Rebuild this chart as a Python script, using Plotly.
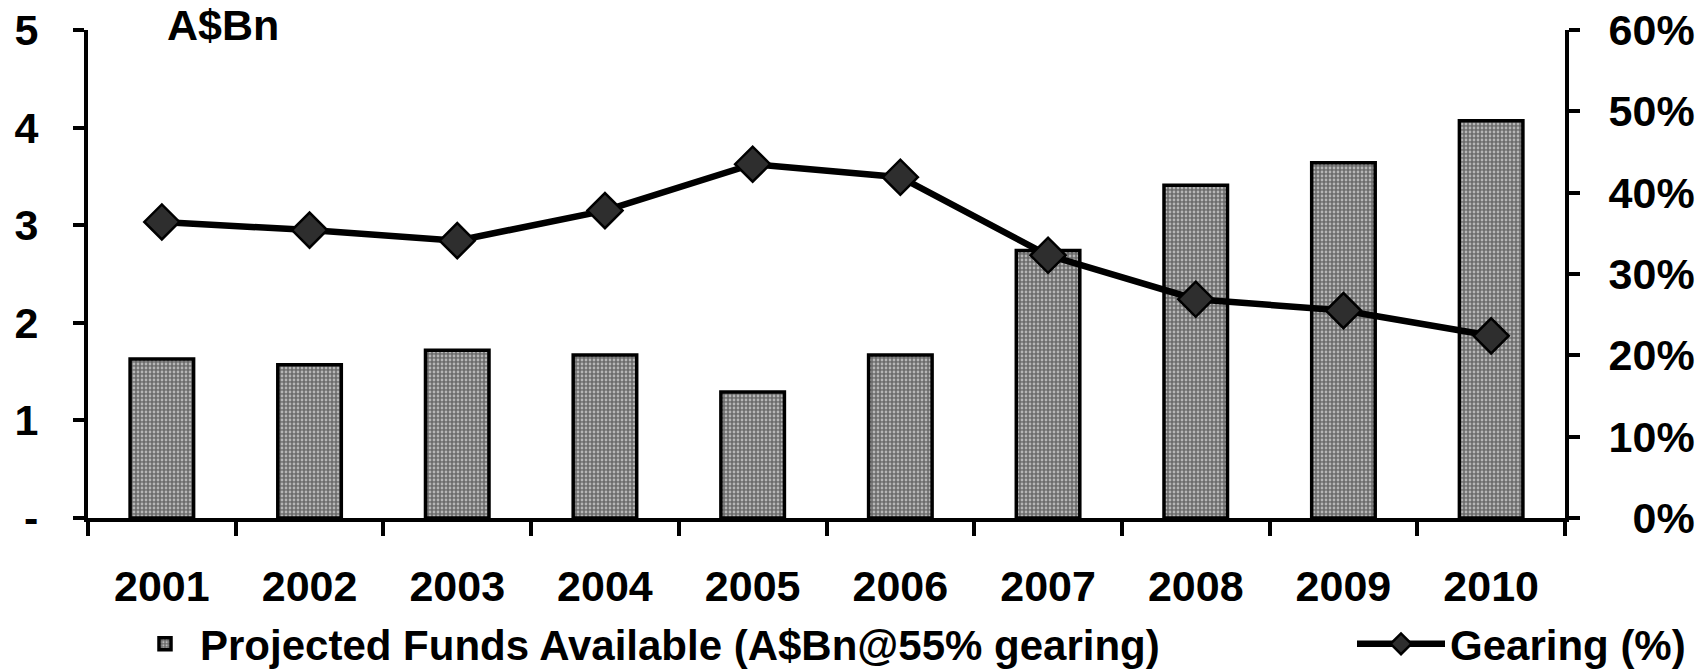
import plotly.graph_objects as go

years = ["2001", "2002", "2003", "2004", "2005", "2006", "2007", "2008", "2009", "2010"]
funds = [1.63, 1.57, 1.72, 1.67, 1.29, 1.67, 2.74, 3.41, 3.64, 4.07]
gearing = [0.364, 0.354, 0.341, 0.378, 0.435, 0.419, 0.323, 0.269, 0.255, 0.224]
left_ticks = [0, 1, 2, 3, 4, 5]
left_tick_text = ["-", "1", "2", "3", "4", "5"]
right_ticks = [0, 0.1, 0.2, 0.3, 0.4, 0.5, 0.6]
right_tick_text = ["\u20070%", "10%", "20%", "30%", "40%", "50%", "60%"]

FONT = "Liberation Sans, Arial, sans-serif"
W, H = 1701, 670
L, R, T, B = 88, 136, 30, 152

fig = go.Figure()
fig.add_trace(go.Bar(
    x=years, y=funds, name="Projected Funds Available (A$Bn@55% gearing)",
    width=0.43,
    marker=dict(color="#8c8c8c", line=dict(color="black", width=3.5),
                pattern=dict(shape=".", bgcolor="#6c6c6c", fgcolor="#ffffff", size=4, solidity=0.38)),
    legend="legend",
))
fig.add_trace(go.Scatter(
    x=years, y=gearing, name="Gearing (%)", yaxis="y2", mode="lines+markers",
    line=dict(color="black", width=6.5),
    marker=dict(symbol="diamond", size=27, color="#2e2e2e", line=dict(color="black", width=2.5)),
    legend="legend2",
))

axis_common = dict(showline=True, linecolor="black", linewidth=4, ticks="outside",
                   tickcolor="black", tickwidth=4, showgrid=False, zeroline=False,
                   automargin=False,
                   tickfont=dict(family=FONT, size=43, color="black", weight="bold"))

legend_font = dict(family=FONT, size=42, color="black", weight="bold")

fig.update_layout(
    width=W, height=H,
    margin=dict(l=L, r=R, t=T, b=B, autoexpand=False),
    plot_bgcolor="white", paper_bgcolor="white",
    font=dict(family=FONT, color="black", weight="bold"),
    xaxis=dict(**axis_common, type="category", tickson="boundaries", ticklen=14,
               range=[-0.5, len(years) - 0.5], ticklabelstandoff=27),
    yaxis=dict(**axis_common, range=[0, 5], tickvals=left_ticks, ticktext=left_tick_text,
               ticklen=11, ticklabelstandoff=26),
    yaxis2=dict(**axis_common, range=[0, 0.6], tickvals=right_ticks, ticktext=right_tick_text,
                overlaying="y", side="right", ticklen=11, ticklabelstandoff=20),
    legend=dict(xref="container", yref="container", x=130 / W, y=1 - 644 / H,
                xanchor="left", yanchor="middle", orientation="h",
                font=legend_font, bgcolor="rgba(0,0,0,0)", itemwidth=60),
    legend2=dict(xref="container", yref="container", x=1352 / W, y=1 - 644 / H,
                 xanchor="left", yanchor="middle", orientation="h",
                 font=legend_font, bgcolor="rgba(0,0,0,0)", itemwidth=88),
    showlegend=True,
    annotations=[dict(text="A$Bn", xref="paper", yref="paper", x=(165 - L) / (W - L - R),
                      y=1.01, xanchor="left", yanchor="middle", showarrow=False,
                      font=dict(family=FONT, size=43, color="black", weight="bold"))],
)

fig.write_html("out.html", config={"displayModeBar": False},
               post_script="document.body.style.margin='0';")
